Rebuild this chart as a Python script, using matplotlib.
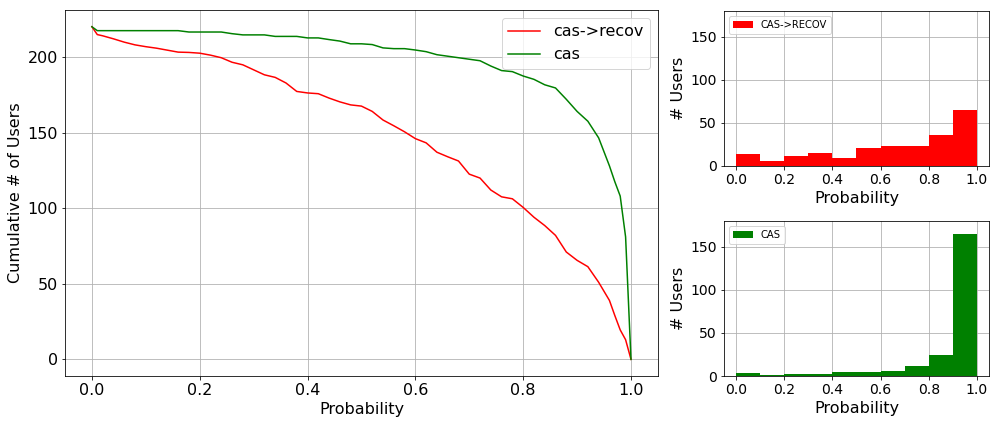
import matplotlib
matplotlib.use('Agg')
import matplotlib.pyplot as plt

# probability thresholds used for the cumulative curves
prob = [0.00, 0.01, 0.02, 0.04, 0.06, 0.08, 0.10, 0.12, 0.14, 0.16, 0.18,
        0.20, 0.22, 0.24, 0.26, 0.28, 0.30, 0.32, 0.34, 0.36, 0.38,
        0.40, 0.42, 0.44, 0.46, 0.48, 0.50, 0.52, 0.54, 0.56, 0.58,
        0.60, 0.62, 0.64, 0.66, 0.68, 0.70, 0.72, 0.74, 0.76, 0.78,
        0.80, 0.82, 0.84, 0.86, 0.88, 0.90, 0.92, 0.94, 0.96, 0.97,
        0.98, 0.99, 1.00]

cum_recov = [220, 214.8, 214, 212, 209.8, 208, 206.8, 205.8, 204.5, 203.2, 203,
             202.5, 201.2, 199.5, 196.5, 194.8, 191.5, 188.2, 186.5, 182.8, 177.2,
             176.2, 175.7, 172.8, 170.3, 168.3, 167.5, 164, 158.3, 154.5, 150.5,
             146, 143.2, 137, 134, 131.2, 122.5, 119.9, 112, 107.5, 106.2,
             100.5, 94, 88.5, 82, 71, 65.5, 61.3, 51, 39, 29,
             19.5, 13, 0]

cum_cas = [220, 217.4, 217.4, 217.4, 217.4, 217.4, 217.4, 217.4, 217.4, 217.4, 216.5,
           216.5, 216.5, 216.5, 215.4, 214.6, 214.6, 214.6, 213.6, 213.6, 213.6,
           212.6, 212.6, 211.5, 210.5, 208.7, 208.7, 208.2, 206, 205.5, 205.5,
           204.6, 203.5, 201.5, 200.5, 199.5, 198.5, 197.5, 194, 191, 190.3,
           187.4, 185.2, 181.6, 179.5, 172, 164, 157.5, 146.5, 128, 117.5,
           108, 81, 0]

# histogram bins (0.1 wide) and counts
bin_edges = [0.0, 0.1, 0.2, 0.3, 0.4, 0.5, 0.6, 0.7, 0.8, 0.9, 1.0]
hist_recov = [14, 6, 12, 15, 9, 21, 23, 23, 36, 65]
hist_cas = [4, 1, 2, 2, 5, 5, 6, 12, 24, 165]

fig = plt.figure(figsize=(999 / 72, 424 / 72), dpi=72)

ax = fig.add_axes([0.065, 0.1132, 0.5936, 0.863])
ax.plot(prob, cum_recov, color='red', label='cas->recov')
ax.plot(prob, cum_cas, color='green', label='cas')
ax.set_xlabel('Probability', fontsize=16)
ax.set_ylabel('Cumulative # of Users', fontsize=16)
ax.tick_params(labelsize=16)
ax.grid(True)
ax.legend(loc='upper right', fontsize=16)

ax_top = fig.add_axes([0.7247, 0.6085, 0.2653, 0.3663])
ax_bot = fig.add_axes([0.7247, 0.1132, 0.2653, 0.3663])

for a, counts, col, lab in [(ax_top, hist_recov, 'red', 'CAS->RECOV'),
                            (ax_bot, hist_cas, 'green', 'CAS')]:
    a.hist(bin_edges[:-1], bins=bin_edges, weights=counts, color=col, label=lab)
    a.set_ylim(0, 180)
    a.set_xlabel('Probability', fontsize=16)
    a.set_ylabel('# Users', fontsize=16)
    a.tick_params(labelsize=14)
    a.grid(True)
    a.set_axisbelow(True)
    a.legend(loc='upper left', fontsize=10)

fig.savefig('out.png', dpi=72)
